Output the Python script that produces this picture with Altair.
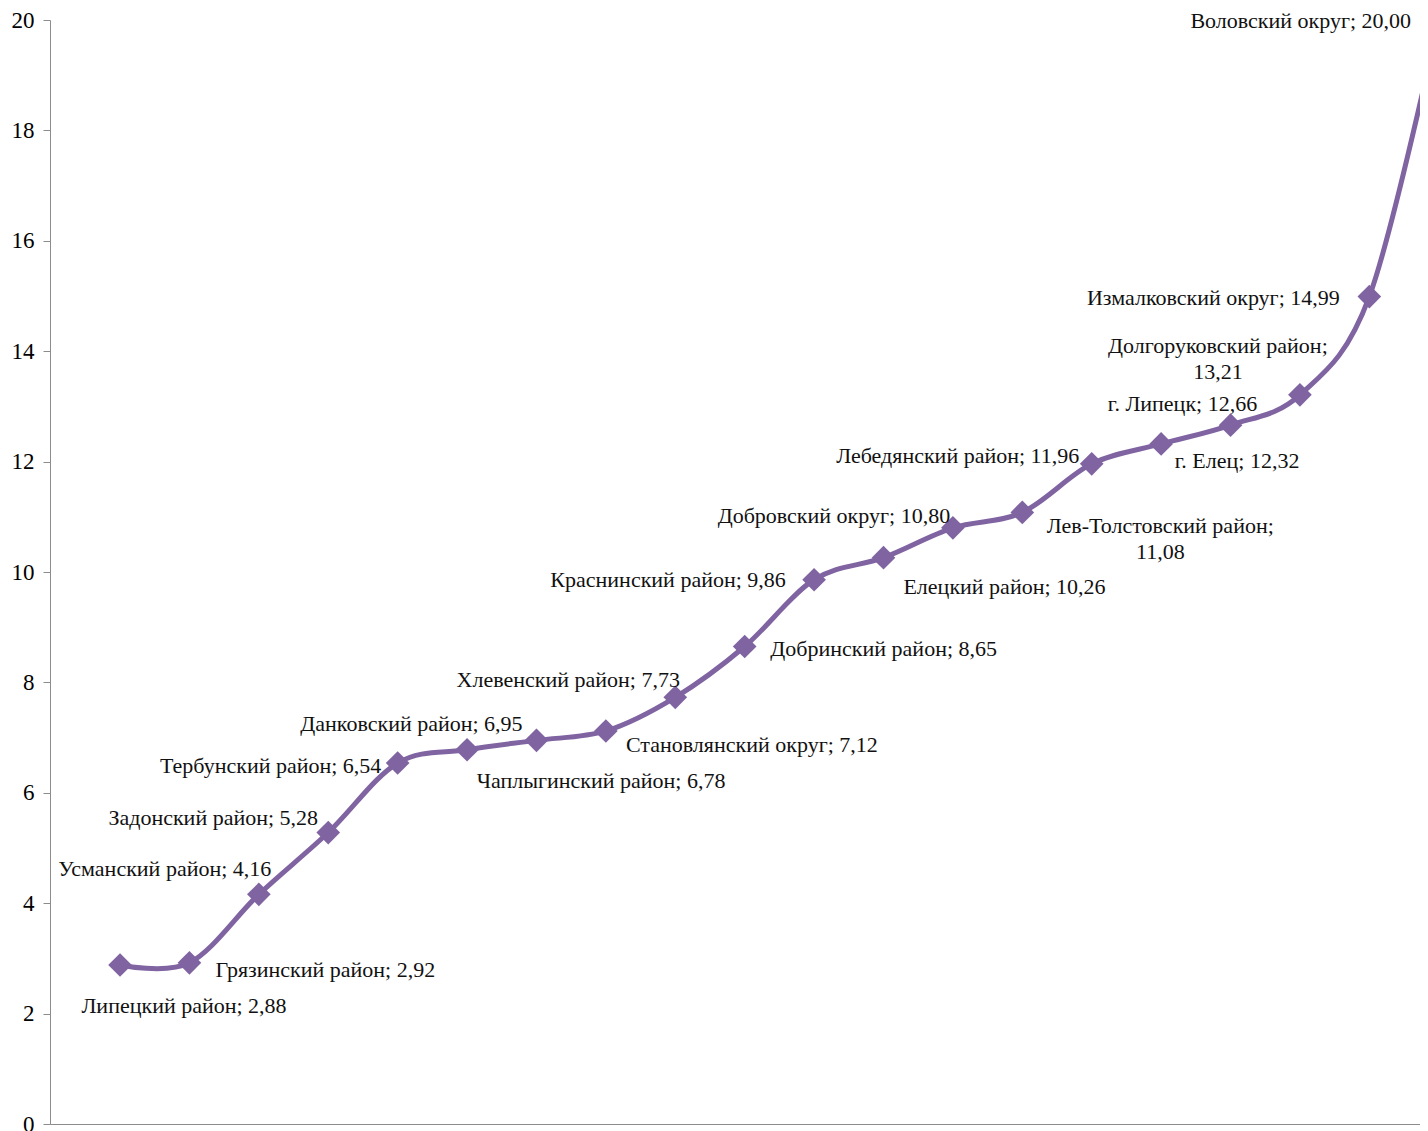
import altair as alt
import pandas as pd

names = [
    "Липецкий район", "Грязинский район", "Усманский район", "Задонский район",
    "Тербунский район", "Чаплыгинский район", "Данковский район", "Становлянский округ",
    "Хлевенский район", "Добринский район", "Краснинский район", "Елецкий район",
    "Добровский округ", "Лев-Толстовский район", "Лебедянский район", "г. Елец",
    "г. Липецк", "Долгоруковский район", "Измалковский округ", "Воловский округ",
]
values = [2.88, 2.92, 4.16, 5.28, 6.54, 6.78, 6.95, 7.12, 7.73, 8.65,
          9.86, 10.26, 10.80, 11.08, 11.96, 12.32, 12.66, 13.21, 14.99, 20.00]
two_line = ["Лев-Толстовский район", "Долгоруковский район"]

# label offsets (pixels) relative to the marker: style only
label_dx = [64, 136, -94, -115, -127, 134, -125, 146, -107, 139,
            -146, 121, -119, 138, -134, 76, -48, -82, -156, -138]
label_dy = [41, 7, -25, -15, 3, 31, -16, 14, -17, 2,
            0, 29, -12, 14, -8, 17, -21, -49, 1, 1]

def make_label(n, v):
    sep = "\n" if n in two_line else " "
    num = f"{v:.2f}".replace(".", ",")
    return f"{n};{sep}{num}"

df = pd.DataFrame({
    "i": list(range(len(names))),
    "name": names,
    "value": values,
    "label": [make_label(n, v) for n, v in zip(names, values)],
})

PURPLE = "#8064A2"
FONT = "Liberation Serif"

x_enc = alt.X("i:Q", scale=alt.Scale(domain=[-1.009, 18.73], nice=False, zero=False),
              axis=alt.Axis(labels=False, ticks=False, grid=False, title=None,
                            domainColor="#8c8c8c", domainWidth=1))
y_enc = alt.Y("value:Q", scale=alt.Scale(domain=[0, 20], nice=False),
              axis=alt.Axis(values=list(range(0, 21, 2)), grid=False, title=None,
                            labelFont=FONT, labelFontSize=23, labelColor="#000000",
                            tickColor="#8c8c8c", domainColor="#8c8c8c", tickSize=7,
                            labelPadding=9))

base = alt.Chart(df)

line = base.mark_line(color=PURPLE, strokeWidth=5, interpolate="cardinal", clip=True).encode(
    x=x_enc, y=y_enc)
points = base.mark_point(shape="diamond", filled=True, size=560, color=PURPLE,
                         opacity=1, clip=True).encode(x="i:Q", y="value:Q")

layers = [line, points]
for k in range(len(names)):
    layers.append(
        base.transform_filter(alt.datum.i == k).mark_text(
            font=FONT, fontSize=22, color="#111111", align="center", baseline="middle",
            dx=label_dx[k], dy=label_dy[k], lineBreak="\n", lineHeight=26,
        ).encode(x="i:Q", y="value:Q", text="label:N")
    )

chart = alt.layer(*layers).properties(
    width=1370, height=1104,
    padding={"left": 42, "top": 12, "right": 0, "bottom": 9},
    autosize=alt.AutoSizeParams(type="none"),
).configure_view(stroke=None)

chart.save("out.html", embed_options={"renderer": "svg", "actions": False})
